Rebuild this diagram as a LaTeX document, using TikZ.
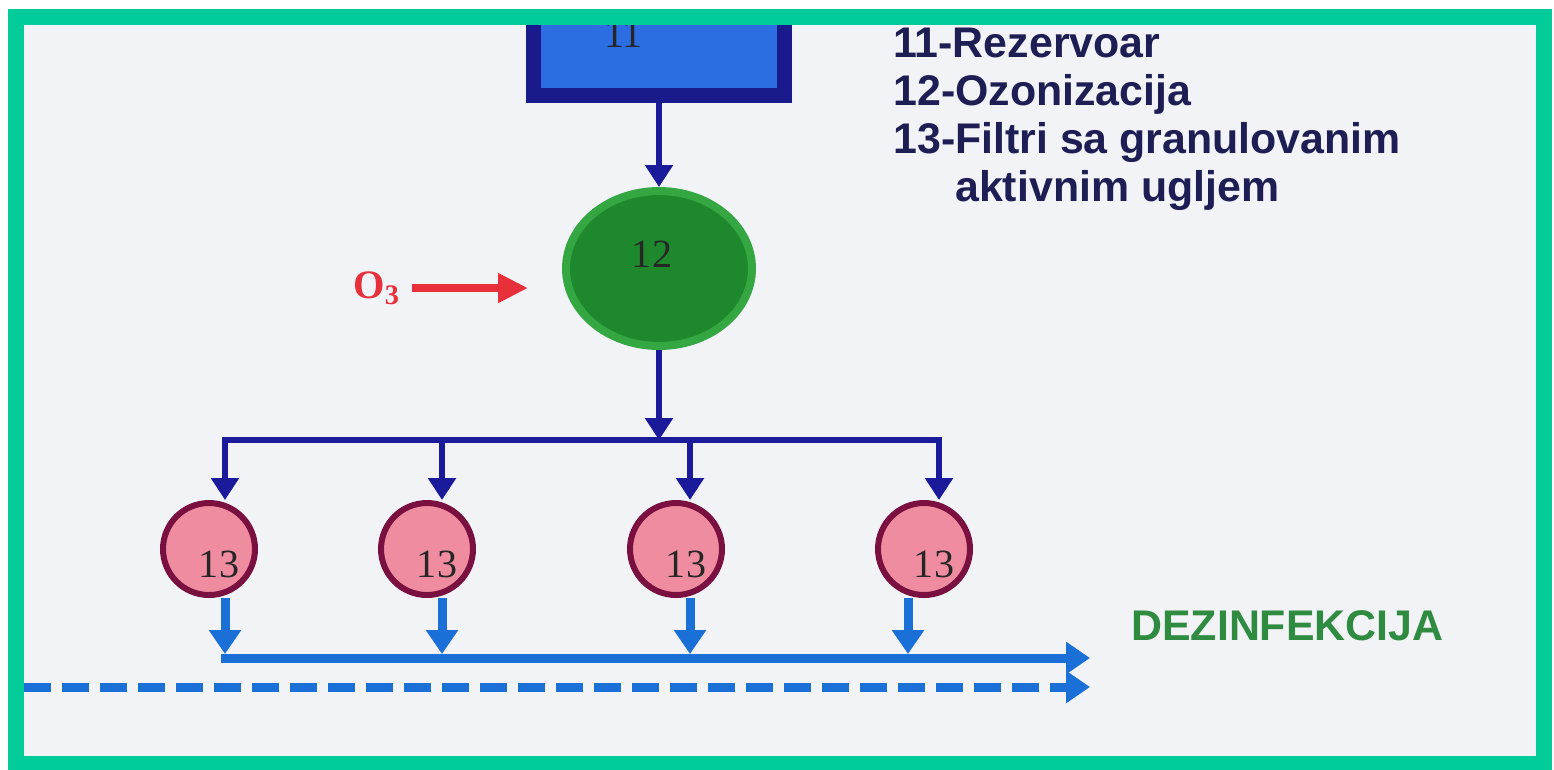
\documentclass[tikz,border=0pt]{standalone}
\usepackage{fontspec}
\setmainfont{Liberation Serif}
\setsansfont{Liberation Sans}
\usepackage{xcolor}
\usetikzlibrary{arrows.meta, positioning, shapes.geometric}

\definecolor{framegreen}{RGB}{0,204,153}
\definecolor{paper}{RGB}{241,243,247}
\definecolor{navy}{RGB}{26,26,154}
\definecolor{tankblue}{RGB}{44,110,226}
\definecolor{tankedge}{RGB}{26,26,140}
\definecolor{ozgreen}{RGB}{30,136,44}
\definecolor{ozedge}{RGB}{52,166,66}
\definecolor{filtpink}{RGB}{240,140,160}
\definecolor{filtedge}{RGB}{122,16,64}
\definecolor{outblue}{RGB}{26,112,214}
\definecolor{ozred}{RGB}{232,48,58}
\definecolor{legendtext}{RGB}{30,30,84}
\definecolor{disgreen}{RGB}{46,139,64}

\begin{document}
\begin{tikzpicture}[x=0.02cm, y=-0.02cm,
  num/.style={font=\fontsize{22.8}{24}\selectfont, text=black!85, inner sep=0},
  tank/.style={draw=tankedge, fill=tankblue, line width=0.3cm,
               minimum width=5.04cm, minimum height=2.8cm, inner sep=0},
  ozon/.style={ellipse, draw=ozedge, fill=ozgreen, line width=0.16cm,
               minimum width=3.72cm, minimum height=3.1cm, inner sep=0},
  filter/.style={circle, draw=filtedge, fill=filtpink, line width=0.12cm,
                 minimum size=1.84cm, inner sep=0,
                 label={[num, xshift=0.2cm, yshift=-0.3cm]center:13}},
  feed/.style={draw=navy, line width=0.12cm, >={Triangle[length=0.44cm, width=0.54cm]}, ->},
  drain/.style={draw=outblue, line width=0.18cm, >={Triangle[length=0.48cm, width=0.62cm]}, ->},
  dose/.style={draw=ozred, line width=0.16cm, -{Triangle[length=0.6cm, width=0.56cm]}},
  legend/.style={font=\sffamily\bfseries\fontsize{24.4}{28}\selectfont,
                 text=legendtext, inner sep=0, anchor=base west},
]
  \useasboundingbox (0,0) rectangle (1554,769);
  \fill[white] (0,0) rectangle (1554,769);
  \fill[paper] (16,17) rectangle (1544,764);

  \begin{scope}
    \clip (16,17) rectangle (1544,764);
    \node[tank, label={[num, xshift=-0.71cm, yshift=-0.18cm]center:11}] (r11) at (659,25.5) {};
  \end{scope}

  \node[ozon, label={[num, xshift=-0.14cm, yshift=0.28cm]center:12}] (oz12) at (659,268.5) {};
  \node[font=\bfseries\fontsize{23}{25}\selectfont, text=ozred, inner sep=0, anchor=base west]
    (o3) at (353,298) {O\textsubscript{3}};

  \foreach \i/\cx/\tx/\ox in {1/209/225/225, 2/427/442/442, 3/676/690/690, 4/924/939/908} {
    \node[filter] (f\i) at (\cx,549) {};
    \coordinate (tap\i) at (\tx,440);
    \coordinate (drain\i) at (\ox,654);
  }
  \coordinate (hub) at (659,440);
  \coordinate (outl) at (221,658);
  \coordinate (exit) at (1090,658);
  \coordinate (inlet) at (24,687);
  \coordinate (bypass) at (1090,687);

  \draw[feed] (r11.south) -- (oz12.north);
  \draw[dose, shorten <=0.24cm, shorten >=0.68cm] (o3.east) -- (o3.east -| oz12.west);
  \draw[feed] (oz12.south) -- (hub);
  \draw[feed, <->] (tap1 |- f1.north) -- (tap1) -- (tap4) -- (tap4 |- f4.north);
  \draw[feed] (tap2) -- (tap2 |- f2.north);
  \draw[feed] (tap3) -- (tap3 |- f3.north);

  \foreach \i in {1,...,4}
    \draw[drain] (f\i.south -| drain\i) -- (drain\i);
  \draw[drain] (outl) -- (exit);
  \draw[drain, dash pattern=on 0.54cm off 0.22cm] (inlet) -- (bypass);

  \node[legend] (l11) at (893,57) {11-Rezervoar};
  \node[legend] (l12) at (893,105) {12-Ozonizacija};
  \node[legend] (l13) at (893,153) {13-Filtri sa granulovanim};
  \node[legend] (l13b) at (893,201) {\hphantom{13-}aktivnim ugljem};
  \node[legend, text=disgreen] (dez) at (1131,640) {DEZINFEKCIJA};

  \draw[framegreen, line width=0.32cm] (16,17) rectangle (1544,764);
\end{tikzpicture}
\end{document}
